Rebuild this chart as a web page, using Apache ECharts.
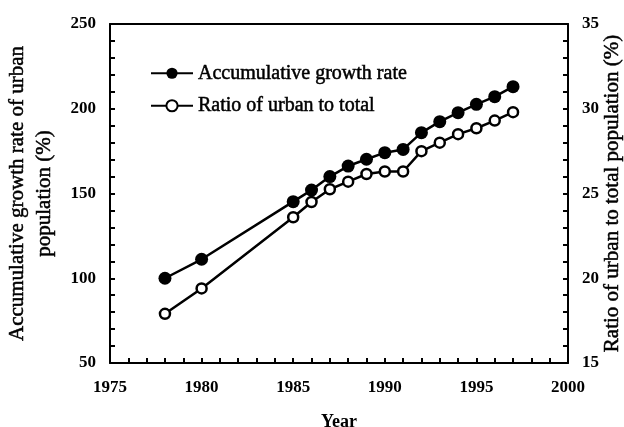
<!DOCTYPE html>
<html>
<head>
<meta charset="utf-8">
<script src="https://cdn.jsdelivr.net/npm/echarts@6/dist/echarts.min.js"></script>
<style>
  html, body { margin: 0; padding: 0; background: #fff; }
  #chart { width: 624px; height: 427px; }
</style>
</head>
<body>
<div id="chart"></div>
<script>
// data
const years = [1978, 1980, 1985, 1986, 1987, 1988, 1989, 1990, 1991, 1992, 1993, 1994, 1995, 1996, 1997];
const growthRate = [100, 111.2, 145.2, 152, 160, 166.2, 170.2, 174.1, 176, 185.9, 192.4, 197.7, 202.6, 207.1, 213];
const urbanRatio = [17.9, 19.4, 23.6, 24.5, 25.25, 25.7, 26.15, 26.3, 26.3, 27.5, 28.0, 28.5, 28.85, 29.3, 29.8];
const seriesNames = ['Accumulative growth rate', 'Ratio of urban to total'];

const serif = '"Liberation Serif", "Times New Roman", serif';
const pairs = (vals) => years.map((y, i) => [y, vals[i]]);

const tickLabel = () => ({ color: '#000', fontFamily: serif, fontSize: 17, fontWeight: 'bold' });
const axisLine = () => ({ show: true, onZero: false, lineStyle: { color: '#000', width: 2 } });
const tick = () => ({ show: true, inside: true, length: 5, lineStyle: { color: '#000', width: 2 } });
const minor = () => ({ show: true, splitNumber: 5, length: 5, lineStyle: { color: '#000', width: 2 } });
const nameStyle = (extra) => Object.assign({ color: '#000', fontFamily: serif, fontSize: 21, textBorderColor: '#000', textBorderWidth: 0.5 }, extra);

const chart = echarts.init(document.getElementById('chart'));
chart.setOption({
  animation: false,
  backgroundColor: '#fff',
  grid: { left: 110, right: 56, top: 24, bottom: 64, outerBoundsMode: 'none', containLabel: false },
  legend: {
    orient: 'vertical',
    left: 145,
    top: 58,
    itemWidth: 42,
    itemHeight: 14,
    itemGap: 12,
    data: seriesNames,
    textStyle: { color: '#000', fontFamily: serif, fontSize: 20, textBorderColor: '#000', textBorderWidth: 0.5 }
  },
  xAxis: [
    {
      type: 'value',
      min: 1975, max: 2000, interval: 5,
      name: 'Year',
      nameLocation: 'middle',
      nameGap: 50,
      nameTextStyle: { color: '#000', fontFamily: serif, fontSize: 18, fontWeight: 'bold' },
      axisLine: axisLine(),
      axisTick: tick(),
      minorTick: minor(),
      splitLine: { show: false },
      axisLabel: Object.assign({ margin: 16, formatter: (v) => String(v) }, tickLabel())
    },
    {
      // top frame line
      type: 'value',
      position: 'top',
      min: 1975, max: 2000, interval: 5,
      axisLine: axisLine(),
      axisTick: { show: false },
      axisLabel: { show: false },
      splitLine: { show: false }
    }
  ],
  yAxis: [
    {
      type: 'value',
      min: 50, max: 250, interval: 50,
      name: 'Accumulative growth rate of urban\npopulation (%)',
      nameLocation: 'middle',
      nameGap: 52,
      nameTextStyle: nameStyle({ lineHeight: 27 }),
      axisLine: axisLine(),
      axisTick: tick(),
      minorTick: minor(),
      splitLine: { show: false },
      axisLabel: Object.assign({ margin: 14 }, tickLabel())
    },
    {
      type: 'value',
      min: 15, max: 35, interval: 5,
      name: 'Ratio of urban to total population (%)',
      nameLocation: 'middle',
      nameGap: 34,
      nameMoveOverlap: false,
      nameTextStyle: nameStyle({}),
      axisLine: axisLine(),
      axisTick: tick(),
      minorTick: minor(),
      splitLine: { show: false },
      axisLabel: Object.assign({ margin: 14 }, tickLabel())
    }
  ],
  series: [
    {
      name: seriesNames[0],
      type: 'line',
      xAxisIndex: 0,
      yAxisIndex: 0,
      data: pairs(growthRate),
      symbol: 'circle',
      symbolSize: 13,
      lineStyle: { color: '#000', width: 2.5 },
      itemStyle: { color: '#000' }
    },
    {
      name: seriesNames[1],
      type: 'line',
      xAxisIndex: 0,
      yAxisIndex: 1,
      data: pairs(urbanRatio),
      symbol: 'circle',
      symbolSize: 10,
      lineStyle: { color: '#000', width: 2.5 },
      itemStyle: { color: '#fff', borderColor: '#000', borderWidth: 2.5 }
    }
  ]
});
</script>
</body>
</html>
